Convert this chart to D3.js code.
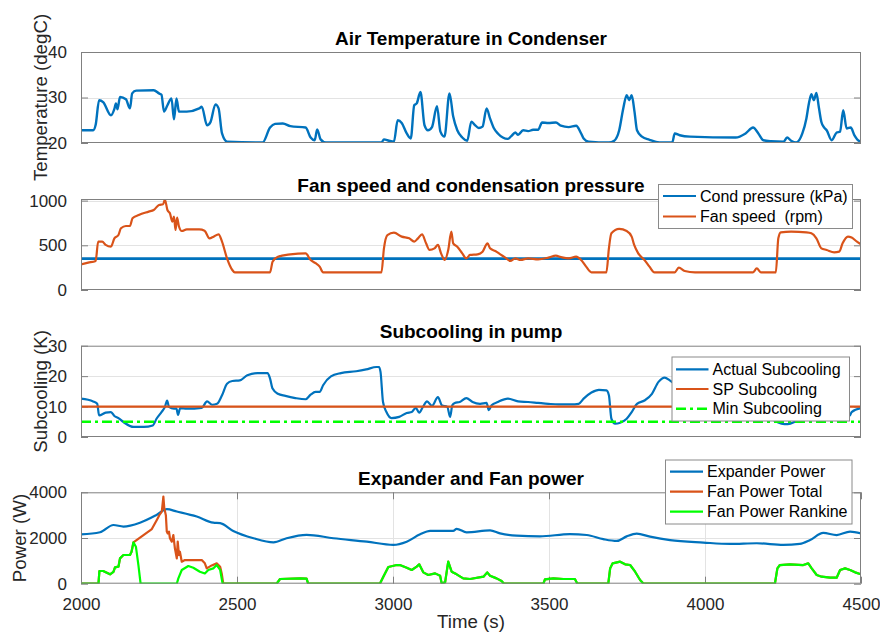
<!DOCTYPE html>
<html>
<head>
<meta charset="utf-8">
<script src="https://cdn.jsdelivr.net/npm/d3@7"></script>
<style>
  html, body { margin: 0; padding: 0; background: #fff; }
  svg { display: block; font-family: "Liberation Sans", Arial, Helvetica, sans-serif; }
  text { white-space: pre; }
</style>
</head>
<body>
<svg id="chart" width="880" height="635"></svg>
<script>
// ---------- data ----------
const xTicks = [2000, 2500, 3000, 3500, 4000, 4500];

// Air temperature in condenser (degC)
const airTempTime = [2000, 2039, 2047, 2058, 2071, 2096, 2107, 2112, 2117, 2125, 2144, 2157, 2164, 2177, 2233, 2250, 2258, 2266, 2277, 2290, 2298, 2306, 2314, 2339, 2379, 2387, 2404, 2415, 2431, 2441, 2452, 2468, 2582, 2606, 2622, 2647, 2671, 2720, 2736, 2749, 2757, 2768, 2785, 2963, 2971, 2987, 3003, 3015, 3028, 3044, 3057, 3068, 3076, 3088, 3101, 3112, 3125, 3141, 3152, 3165, 3181, 3193, 3206, 3222, 3238, 3251, 3262, 3275, 3287, 3300, 3311, 3323, 3336, 3352, 3368, 3379, 3392, 3401, 3417, 3433, 3449, 3465, 3478, 3498, 3522, 3538, 3563, 3587, 3603, 3611, 3627, 3692, 3709, 3725, 3738, 3749, 3757, 3765, 3774, 3782, 3798, 3822, 3854, 3895, 3903, 3919, 3952, 4098, 4130, 4154, 4171, 4187, 4211, 4252, 4263, 4276, 4292, 4312, 4325, 4333, 4341, 4349, 4357, 4365, 4373, 4381, 4390, 4406, 4422, 4433, 4443, 4454, 4467, 4479, 4495, 4500];
const airTemp = [22.8, 22.8, 24.0, 29.4, 29.0, 26.1, 27.5, 28.7, 27.4, 30.1, 29.6, 27.6, 30.9, 31.5, 31.6, 30.9, 30.6, 26.9, 28.3, 29.8, 25.2, 29.8, 26.9, 26.9, 27.6, 28.0, 23.9, 24.6, 28.5, 27.6, 22.1, 20.3, 20.1, 23.4, 24.2, 24.3, 23.7, 23.4, 21.2, 20.6, 23.0, 20.8, 20.1, 20.1, 20.8, 20.5, 20.3, 25.0, 24.4, 22.1, 21.0, 28.3, 28.7, 31.2, 23.9, 22.8, 23.5, 28.1, 22.5, 21.4, 30.9, 25.8, 22.8, 21.2, 20.5, 24.7, 24.0, 23.3, 23.6, 27.6, 25.4, 23.3, 22.1, 21.2, 20.9, 21.5, 22.3, 21.8, 22.8, 22.6, 22.9, 22.9, 24.5, 24.4, 24.5, 23.8, 23.5, 23.8, 22.1, 21.0, 20.3, 20.1, 20.5, 22.8, 27.6, 30.5, 29.4, 30.5, 26.9, 22.8, 21.4, 20.7, 20.1, 20.1, 22.1, 21.7, 21.4, 21.2, 22.1, 23.4, 22.1, 20.6, 20.4, 20.3, 21.2, 20.5, 20.1, 22.1, 25.4, 28.7, 30.7, 29.4, 31.0, 27.8, 24.6, 23.5, 22.8, 20.6, 22.3, 22.5, 27.2, 23.2, 23.4, 21.7, 20.4, 20.3];

// Condensation pressure (kPa) and fan speed (rpm)
const condPressureTime = [2000, 4500];
const condPressure = [350, 350];
const fanSpeedTime = [2000, 2023, 2047, 2055, 2068, 2079, 2096, 2107, 2120, 2128, 2144, 2157, 2165, 2185, 2217, 2233, 2250, 2263, 2269, 2277, 2285, 2293, 2298, 2303, 2308, 2314, 2323, 2339, 2379, 2396, 2412, 2425, 2441, 2452, 2468, 2485, 2493, 2606, 2614, 2631, 2671, 2720, 2736, 2752, 2765, 2776, 2963, 2971, 2982, 3003, 3028, 3052, 3068, 3080, 3093, 3106, 3117, 3133, 3144, 3154, 3166, 3177, 3187, 3193, 3206, 3222, 3235, 3247, 3271, 3287, 3303, 3311, 3328, 3344, 3360, 3376, 3392, 3409, 3433, 3465, 3498, 3522, 3538, 3563, 3587, 3603, 3619, 3636, 3684, 3692, 3700, 3725, 3749, 3765, 3773, 3786, 3806, 3822, 3838, 3903, 3916, 3935, 3968, 4154, 4166, 4179, 4227, 4235, 4243, 4276, 4325, 4341, 4357, 4373, 4390, 4414, 4430, 4441, 4458, 4470, 4487, 4500];
const fanSpeed = [287, 306, 325, 541, 541, 504, 485, 578, 615, 690, 716, 716, 802, 839, 877, 895, 951, 959, 1010, 895, 858, 765, 820, 671, 810, 710, 660, 679, 679, 664, 578, 597, 623, 541, 354, 224, 198, 198, 317, 373, 399, 410, 336, 300, 261, 198, 198, 466, 615, 641, 597, 578, 541, 578, 623, 522, 448, 466, 504, 410, 336, 448, 653, 522, 485, 410, 354, 392, 399, 429, 522, 466, 436, 399, 362, 325, 354, 336, 354, 343, 362, 384, 369, 354, 373, 336, 261, 198, 198, 466, 634, 683, 660, 597, 504, 410, 336, 261, 198, 198, 250, 213, 198, 198, 242, 198, 198, 578, 645, 653, 645, 634, 578, 466, 448, 422, 429, 522, 597, 586, 541, 511];

// Subcooling in pump (K)
const subcoolTime = [2000, 2039, 2052, 2058, 2079, 2096, 2107, 2120, 2136, 2169, 2201, 2230, 2242, 2258, 2269, 2276, 2282, 2298, 2306, 2311, 2318, 2339, 2387, 2404, 2420, 2436, 2452, 2468, 2485, 2509, 2533, 2566, 2598, 2606, 2614, 2631, 2655, 2687, 2720, 2736, 2752, 2765, 2776, 2801, 2833, 2882, 2914, 2947, 2955, 2960, 2968, 2979, 2995, 3020, 3044, 3060, 3073, 3084, 3096, 3109, 3125, 3144, 3157, 3174, 3183, 3190, 3198, 3214, 3235, 3255, 3279, 3300, 3307, 3316, 3336, 3368, 3401, 3433, 3465, 3498, 3530, 3571, 3595, 3611, 3636, 3660, 3684, 3692, 3700, 3712, 3728, 3749, 3765, 3782, 3806, 3830, 3851, 3871, 3887, 3920, 3960, 4000, 4080, 4150, 4200, 4225, 4245, 4265, 4300, 4350, 4400, 4440, 4465, 4470, 4500];
const subcoolActual = [12.6, 11.7, 10.9, 7.1, 8.0, 8.2, 6.9, 6.2, 4.9, 3.3, 3.3, 3.8, 6.0, 8.2, 9.9, 12.0, 9.9, 9.3, 9.3, 7.3, 9.5, 9.3, 9.6, 11.7, 10.6, 10.9, 13.7, 17.5, 18.4, 18.6, 20.3, 21.0, 21.0, 19.2, 15.9, 14.2, 13.5, 12.8, 12.4, 13.9, 14.8, 14.8, 17.0, 19.9, 21.0, 21.6, 22.2, 23.0, 23.0, 21.4, 11.5, 8.2, 6.2, 6.6, 7.9, 8.2, 9.6, 8.0, 9.9, 11.7, 10.2, 13.1, 10.4, 9.9, 6.6, 10.4, 11.2, 11.5, 12.8, 11.5, 10.9, 11.2, 8.8, 10.4, 11.5, 12.6, 11.7, 11.5, 11.2, 10.9, 10.7, 10.7, 10.9, 12.6, 14.6, 15.5, 15.3, 13.7, 6.0, 4.4, 4.7, 6.0, 8.2, 10.9, 12.0, 14.2, 18.1, 19.5, 18.6, 16.0, 13.5, 12.0, 11.5, 10.0, 7.5, 5.2, 4.4, 4.2, 5.5, 6.5, 6.8, 6.0, 7.2, 8.2, 9.5];
const subcoolSetpoint = [10, 10];
const subcoolMinimum = [5, 5];
const subcoolLimitTime = [2000, 4500];

// Expander and fan power (W)
const expanderTime = [2000, 2061, 2104, 2136, 2189, 2242, 2275, 2307, 2371, 2424, 2446, 2488, 2553, 2617, 2659, 2723, 2809, 2916, 3001, 3044, 3087, 3119, 3193, 3204, 3236, 3311, 3343, 3396, 3471, 3567, 3621, 3674, 3717, 3749, 3781, 3824, 3888, 3995, 4080, 4166, 4251, 4304, 4337, 4379, 4422, 4465, 4500];
const expanderPower = [2160, 2250, 2570, 2500, 2670, 3010, 3260, 3160, 2940, 2670, 2650, 2310, 1990, 1810, 1990, 2140, 1990, 1840, 1700, 1840, 2160, 2310, 2310, 2400, 2250, 2330, 2200, 2100, 2070, 2170, 2130, 1950, 1870, 2070, 2190, 2060, 1910, 1800, 1740, 1770, 1700, 1740, 1910, 2220, 2130, 2280, 2200];

const rankineFanTime = [2000, 2056, 2059, 2071, 2093, 2104, 2109, 2120, 2125, 2136, 2157, 2162, 2168, 2176, 2184, 2191, 2307, 2312, 2323, 2344, 2360, 2381, 2397, 2408, 2424, 2435, 2446, 2454, 2627, 2638, 2702, 2723, 2728, 2958, 2969, 2985, 3012, 3022, 3044, 3060, 3076, 3084, 3097, 3113, 3135, 3151, 3156, 3167, 3177, 3188, 3204, 3225, 3247, 3290, 3302, 3311, 3332, 3348, 3356, 3482, 3487, 3514, 3546, 3583, 3591, 3690, 3696, 3704, 3728, 3744, 3760, 3776, 3792, 3803, 4224, 4232, 4240, 4272, 4315, 4331, 4342, 4358, 4374, 4401, 4422, 4433, 4449, 4465, 4481, 4497, 4500];
const rankineFanPower = [0, 0, 555, 555, 410, 520, 715, 745, 1110, 1255, 1255, 1400, 1810, 1620, 817, 0, 0, 233, 600, 775, 700, 525, 450, 600, 671, 817, 600, 0, 0, 205, 233, 220, 0, 0, 306, 730, 817, 817, 700, 600, 745, 847, 496, 380, 452, 350, 15, 60, 963, 525, 410, 233, 205, 306, 496, 350, 233, 117, 0, 0, 190, 233, 205, 205, 0, 0, 671, 890, 963, 847, 817, 525, 160, 0, 0, 671, 817, 847, 817, 890, 671, 380, 306, 263, 263, 600, 671, 600, 496, 423, 410];

// Total fan power where it departs from the Rankine fan share
const totalFanExtraTime = [2168, 2227, 2243, 2251, 2259, 2264, 2267, 2272, 2275, 2278, 2282, 2285, 2291, 2296, 2301, 2307, 2310, 2314, 2317, 2323, 2333, 2387, 2397, 2403, 2419, 2435, 2446, 2451, 2456];
const totalFanExtraPower = [1810, 2390, 2790, 3000, 3150, 3810, 3300, 3000, 2280, 2200, 2280, 1990, 1840, 2130, 1550, 1110, 1840, 1255, 1400, 963, 1036, 1036, 890, 671, 800, 890, 745, 450, 0];

// ---------- layout & style ----------
const plotLeft = 81, plotRight = 861;
const blue = "#0072BD", orange = "#D95319", green = "#00FF00";
const textColor = "#262626", boxColor = "#808080", gridColor = "#e3e3e3";
const tickFont = 17, titleFont = 19, labelFont = 18.7, legendFont = 16;

const svg = d3.select("#chart");
const x = d3.scaleLinear().domain([2000, 4500]).range([plotLeft, plotRight]);

const zip = (ts, vs) => ts.map((t, i) => [t, vs[i]]);

function makePanel(cfg) {
  const y = d3.scaleLinear().domain(cfg.domain).range([cfg.bottom, cfg.top]);
  const g = svg.append("g");
  const clipId = "clip" + cfg.id;
  svg.append("clipPath").attr("id", clipId)
    .append("rect").attr("x", plotLeft).attr("y", cfg.top)
    .attr("width", plotRight - plotLeft).attr("height", cfg.bottom - cfg.top);

  // horizontal grid
  g.append("g").selectAll("line").data(cfg.ticks.filter(v => v > cfg.domain[0] && v < cfg.domain[1]))
    .join("line")
    .attr("x1", plotLeft).attr("x2", plotRight)
    .attr("y1", d => Math.round(y(d)) + 0.5).attr("y2", d => Math.round(y(d)) + 0.5)
    .attr("stroke", gridColor).attr("stroke-width", 1);
  // vertical grid
  if (cfg.xGrid) {
    g.append("g").selectAll("line").data(xTicks.slice(1, -1)).join("line")
      .attr("x1", d => Math.round(x(d)) + 0.5).attr("x2", d => Math.round(x(d)) + 0.5)
      .attr("y1", cfg.top).attr("y2", cfg.bottom)
      .attr("stroke", gridColor).attr("stroke-width", 1);
  }

  // y axis (left) with ticks inward
  const yAxis = d3.axisLeft(y).tickValues(cfg.ticks).tickSize(-7).tickPadding(14)
    .tickFormat(d3.format("d"));
  const ya = g.append("g").attr("transform", `translate(${plotLeft},0)`).call(yAxis);
  ya.select(".domain").remove();
  ya.selectAll(".tick line").attr("stroke", boxColor);
  ya.selectAll(".tick text").attr("font-size", tickFont).attr("fill", textColor)
    .attr("font-family", "Liberation Sans, Arial, sans-serif");
  // right-side mirrored ticks
  const yr = g.append("g").attr("transform", `translate(${plotRight},0)`)
    .call(d3.axisRight(y).tickValues(cfg.ticks).tickSize(-7).tickFormat(""));
  yr.select(".domain").remove();
  yr.selectAll(".tick line").attr("stroke", boxColor);

  if (cfg.xAxis) {
    const xa = g.append("g").attr("transform", `translate(0,${cfg.bottom})`)
      .call(d3.axisBottom(x).tickValues(xTicks).tickSize(-7).tickPadding(14).tickFormat(d3.format("d")));
    xa.select(".domain").remove();
    xa.selectAll(".tick line").attr("stroke", boxColor);
    xa.selectAll(".tick text").attr("font-size", tickFont).attr("fill", textColor)
      .attr("font-family", "Liberation Sans, Arial, sans-serif");
    const xt = g.append("g").attr("transform", `translate(0,${cfg.top})`)
      .call(d3.axisTop(x).tickValues(xTicks).tickSize(-7).tickFormat(""));
    xt.select(".domain").remove();
    xt.selectAll(".tick line").attr("stroke", boxColor);
  }

  // series
  const sg = g.append("g").attr("clip-path", `url(#${clipId})`);
  cfg.series.forEach(s => {
    const lineGen = d3.line().x(d => x(d[0])).y(d => y(d[1]))
      .curve(s.smooth ? d3.curveMonotoneX : d3.curveLinear);
    sg.append("path").datum(s.points).attr("d", lineGen)
      .attr("fill", "none").attr("stroke", s.color).attr("stroke-width", s.width || 2.2)
      .attr("stroke-linejoin", "round")
      .attr("stroke-dasharray", s.dash || null);
  });

  // box
  g.append("rect").attr("x", plotLeft + 0.5).attr("y", cfg.top + 0.5)
    .attr("width", plotRight - plotLeft - 1).attr("height", cfg.bottom - cfg.top - 1)
    .attr("fill", "none").attr("stroke", boxColor).attr("stroke-width", 1);

  // title
  g.append("text").attr("x", (plotLeft + plotRight) / 2).attr("y", cfg.titleY)
    .attr("text-anchor", "middle").attr("font-size", titleFont).attr("font-weight", "bold")
    .attr("fill", "#000").text(cfg.title);

  // y label
  if (cfg.yLabel) {
    g.append("text")
      .attr("transform", `translate(${cfg.yLabelX},${(cfg.top + cfg.bottom) / 2}) rotate(-90)`)
      .attr("text-anchor", "middle").attr("font-size", labelFont).attr("fill", textColor)
      .text(cfg.yLabel);
  }

  // legend
  if (cfg.legend) {
    const L = cfg.legend;
    const lg = svg.append("g");
    lg.append("rect").attr("x", L.x + 0.5).attr("y", L.y + 0.5).attr("width", L.w).attr("height", L.h)
      .attr("fill", "#fff").attr("stroke", "#8a8a8a").attr("stroke-width", 1);
    L.items.forEach((it, i) => {
      const cy = L.y + L.firstRow + i * L.rowStep;
      lg.append("line").attr("x1", L.x + L.lineX0).attr("x2", L.x + L.lineX1)
        .attr("y1", cy).attr("y2", cy)
        .attr("stroke", it.color).attr("stroke-width", it.width || 2.2)
        .attr("stroke-dasharray", it.dash || null);
      lg.append("text").attr("x", L.x + L.textX).attr("y", cy).attr("dy", "0.35em")
        .attr("font-size", legendFont).attr("fill", "#000").text(it.label);
    });
  }
  return y;
}

// Panel 1: air temperature
makePanel({
  id: 1, top: 52, bottom: 143, domain: [20, 40], ticks: [20, 30, 40],
  title: "Air Temperature in Condenser", titleY: 45,
  yLabel: "Temperature (degC)", yLabelX: 47,
  series: [{ points: zip(airTempTime, airTemp), color: blue, width: 2.4, smooth: true }]
});

// Panel 2: fan speed and condensation pressure
makePanel({
  id: 2, top: 199, bottom: 290, domain: [0, 1018], ticks: [0, 500, 1000],
  title: "Fan speed and condensation pressure", titleY: 191.5,
  series: [
    { points: zip(condPressureTime, condPressure), color: blue, width: 2.8 },
    { points: zip(fanSpeedTime, fanSpeed), color: orange, width: 2.2, smooth: true }
  ],
  legend: {
    x: 658, y: 184, w: 194, h: 44, firstRow: 12, rowStep: 20.5,
    lineX0: 5, lineX1: 38, textX: 42,
    items: [
      { label: "Cond pressure (kPa)", color: blue },
      { label: "Fan speed  (rpm)", color: orange }
    ]
  }
});

// Panel 3: subcooling
makePanel({
  id: 3, top: 345.7, bottom: 437, domain: [0, 30], ticks: [0, 10, 20, 30],
  title: "Subcooling in pump", titleY: 338,
  yLabel: "Subcooling (K)", yLabelX: 47,
  series: [
    { points: zip(subcoolTime, subcoolActual), color: blue, width: 2.2, smooth: true },
    { points: zip(subcoolLimitTime, subcoolSetpoint), color: orange, width: 2.2 },
    { points: zip(subcoolLimitTime, subcoolMinimum), color: green, width: 2.6, dash: "10,4,3,4" }
  ],
  legend: {
    x: 671.5, y: 356.5, w: 177.5, h: 64, firstRow: 12.8, rowStep: 19.7,
    lineX0: 4.5, lineX1: 37, textX: 41,
    items: [
      { label: "Actual Subcooling", color: blue },
      { label: "SP Subcooling", color: orange },
      { label: "Min Subcooling", color: green, dash: "10,4,3,4", width: 2.6 }
    ]
  }
});

// Panel 4: expander and fan power
const fanTotalPoints = zip(rankineFanTime, rankineFanPower)
  .filter(p => p[0] < totalFanExtraTime[0] || p[0] > totalFanExtraTime[totalFanExtraTime.length - 1])
  .concat(zip(totalFanExtraTime, totalFanExtraPower))
  .sort((a, b) => a[0] - b[0]);

makePanel({
  id: 4, top: 492.3, bottom: 583.7, domain: [0, 4000], ticks: [0, 2000, 4000],
  title: "Expander and Fan power", titleY: 485,
  yLabel: "Power (W)", yLabelX: 26, xAxis: true, xGrid: true,
  series: [
    { points: zip(expanderTime, expanderPower), color: blue, width: 2.2, smooth: true },
    { points: fanTotalPoints, color: orange, width: 2.2 },
    { points: zip(rankineFanTime, rankineFanPower), color: green, width: 2.2 }
  ],
  legend: {
    x: 665, y: 459.5, w: 186.5, h: 64, firstRow: 12.2, rowStep: 20,
    lineX0: 5, lineX1: 38, textX: 42,
    items: [
      { label: "Expander Power", color: blue },
      { label: "Fan Power Total", color: orange },
      { label: "Fan Power Rankine", color: green }
    ]
  }
});

// x axis label
svg.append("text").attr("x", (plotLeft + plotRight) / 2).attr("y", 628)
  .attr("text-anchor", "middle").attr("font-size", labelFont).attr("fill", textColor)
  .text("Time (s)");
</script>
</body>
</html>
